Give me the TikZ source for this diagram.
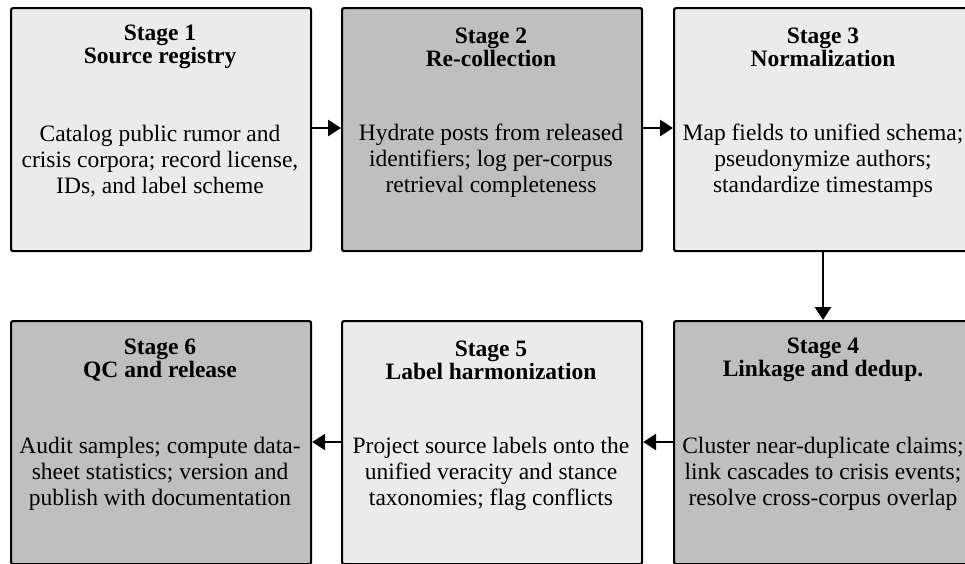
\documentclass[tikz,border=0pt]{standalone}
\usepackage{fontspec}
\setmainfont{Liberation Serif}
\usetikzlibrary{arrows.meta}
\definecolor{lightbox}{HTML}{EBEBEB}
\definecolor{darkbox}{HTML}{BFBFBF}
\tikzset{
  stagebox/.style={draw=black, line width=2.2pt, rounded corners=2pt, minimum width=300pt, minimum height=243pt, anchor=north west},
  lightfill/.style={fill=lightbox},
  darkfill/.style={fill=darkbox},
  ttl/.style={font=\fontsize{23.5}{23}\selectfont\bfseries, align=center},
  bdy/.style={font=\fontsize{23.5}{26}\selectfont, align=center},
  conn/.style={line width=2.8pt, -{Triangle[length=13pt,width=16pt]}}
}
\begin{document}
\begin{tikzpicture}[x=1pt,y=-1pt]
\useasboundingbox (0,0) rectangle (965,563);
\clip (0,0) rectangle (965,563);
\node[stagebox,lightfill] (s1) at (10,7) {};
\node[stagebox,darkfill] (s2) at (341,7) {};
\node[stagebox,lightfill] (s3) at (673,7) {};
\node[stagebox,darkfill] (s4) at (673,320) {};
\node[stagebox,lightfill] (s5) at (341,320) {};
\node[stagebox,darkfill] (s6) at (10,320) {};
% titles
\node[ttl] (t1) at (160,47) {Stage 1\\Source registry};
\node[ttl] (t2) at (491,47) {Stage 2\\Re-collection};
\node[ttl] (t3) at (823,47) {Stage 3\\Normalization};
\node[ttl] (t4) at (823,360) {Stage 4\\Linkage and dedup.};
\node[ttl] (t5) at (491,360) {Stage 5\\Label harmonization};
\node[ttl] (t6) at (160,360) {Stage 6\\QC and release};
% bodies
\node[bdy] (b1) at (160,161) {Catalog public rumor and\\crisis corpora; record license,\\IDs, and label scheme};
\node[bdy] (b2) at (491,161) {Hydrate posts from released\\identifiers; log per-corpus\\retrieval completeness};
\node[bdy] (b3) at (823,161) {Map fields to unified schema;\\pseudonymize authors;\\standardize timestamps};
\node[bdy] (b4) at (823,474) {Cluster near-duplicate claims;\\link cascades to crisis events;\\resolve cross-corpus overlap};
\node[bdy] (b5) at (491,474) {Project source labels onto the\\unified veracity and stance\\taxonomies; flag conflicts};
\node[bdy] (b6) at (160,474) {Audit samples; compute data-\\sheet statistics; version and\\publish with documentation};
% connectors
\draw[conn] (s1.east |- 0,128) -- (s2.west |- 0,128);
\draw[conn] (s2.east |- 0,128) -- (s3.west |- 0,128);
\draw[conn] (s3.south -| 823,0) -- (s4.north -| 823,0);
\draw[conn] (s4.west |- 0,442) -- (s5.east |- 0,442);
\draw[conn] (s5.west |- 0,442) -- (s6.east |- 0,442);
\end{tikzpicture}
\end{document}
